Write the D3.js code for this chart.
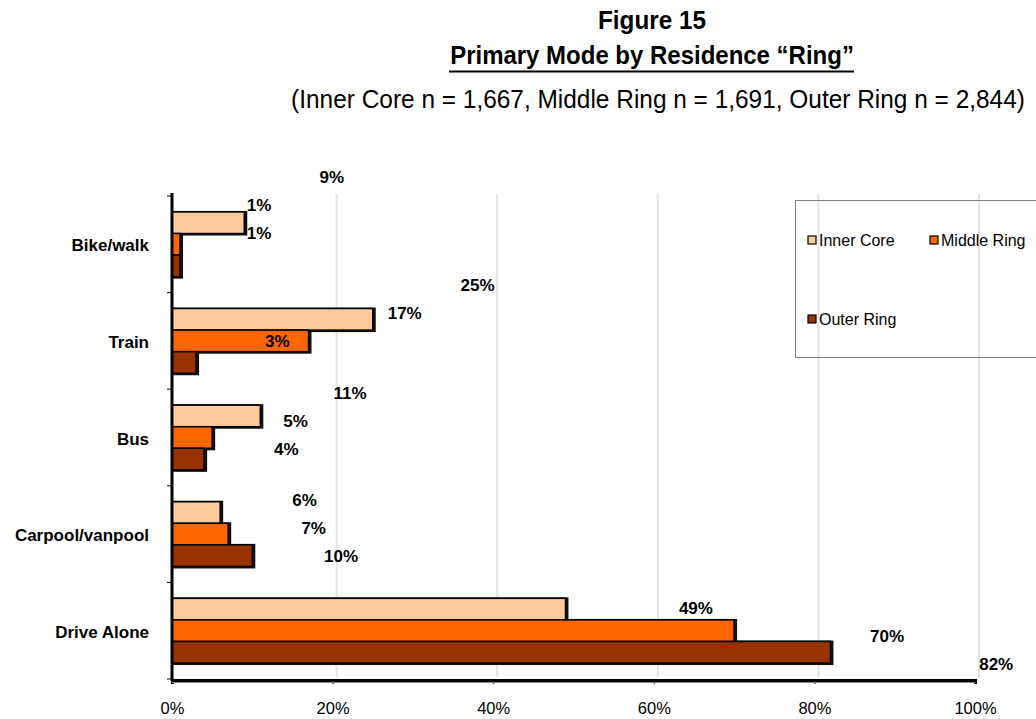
<!DOCTYPE html>
<html>
<head>
<meta charset="utf-8">
<script src="https://cdn.jsdelivr.net/npm/d3@7"></script>
<style>
  html, body { margin: 0; padding: 0; background: #fff; }
  svg { display: block; }
  text { font-family: Arial, "Liberation Sans", sans-serif; fill: #000; }
</style>
</head>
<body>
<svg id="chart" width="1036" height="719"></svg>
<script>
// Primary mode shares (%) by residence ring
const categories = ["Bike/walk", "Train", "Bus", "Carpool/vanpool", "Drive Alone"];
const series = ["Inner Core", "Middle Ring", "Outer Ring"];
const innerCore = [9, 25, 11, 6, 49];
const middleRing = [1, 17, 5, 7, 70];
const outerRing = [1, 3, 4, 10, 82];
const xTicks = [0, 0.2, 0.4, 0.6, 0.8, 1.0];
const colors = ["#FFCC99", "#FF6600", "#993300"];

const titleLines = [
  "Figure 15",
  "Primary Mode by Residence \u201CRing\u201D",
  "(Inner Core n = 1,667, Middle Ring n = 1,691, Outer Ring n = 2,844)"
];

const values = [innerCore, middleRing, outerRing];
const rows = [];
categories.forEach((c, i) => series.forEach((s, j) => rows.push({ cat: c, ser: s, v: values[j][i], j })));

const svg = d3.select("#chart");

// Titles: a narrow face, made by squeezing a regular sans to the set width
function narrowText(str, cx, baseline, width, weight) {
  const g = svg.append("g");
  const t = g.append("text").attr("text-anchor", "middle").attr("font-size", 26)
    .attr("font-weight", weight).text(str);
  const natural = t.node().getComputedTextLength();
  g.attr("transform", `translate(${cx},${baseline}) scale(${width / natural},1)`);
}
const titleX = 652;
narrowText(titleLines[0], titleX, 29, 108, "bold");
narrowText(titleLines[1], titleX, 64, 404, "bold");
svg.append("line").attr("x1", titleX - 203).attr("x2", titleX + 202)
  .attr("y1", 71.5).attr("y2", 71.5).attr("stroke", "#000").attr("stroke-width", 2);
narrowText(titleLines[2], 658, 108, 734, "normal");

// Scales
const x = d3.scaleLinear().domain([0, 1]).range([172, 975]);
const y = d3.scaleBand().domain(categories).range([196, 679]).paddingInner(0.33).paddingOuter(0.165);
const ySub = d3.scaleBand().domain(series).range([0, y.bandwidth()]);

// Data labels sit on their own projected scales (3D-style label placement)
const xLab = d3.scaleLinear().domain([0, 100]).range([250, 1160]);
const yLab = d3.scaleBand().domain(categories).range([151, 690]);
const yLabSub = d3.scaleBand().domain(series).range([-42, 42]);

// Gridlines (back wall, set slightly to the right)
const wallShift = 4;
svg.append("g").selectAll("line").data(xTicks.slice(1)).join("line")
  .attr("x1", d => x(d) + wallShift).attr("x2", d => x(d) + wallShift)
  .attr("y1", 194).attr("y2", 677)
  .attr("stroke", "#e3e3e3").attr("stroke-width", 2);

// Legend
const lg = svg.append("g");
lg.append("rect").attr("x", 795.5).attr("y", 200.5).attr("width", 260).attr("height", 157)
  .attr("fill", "none").attr("stroke", "#808080").attr("stroke-width", 1);
const legendPos = [[808, 246], [930, 246], [808, 325]];
series.forEach((s, i) => {
  const [lx, ly] = legendPos[i];
  lg.append("rect").attr("x", lx).attr("y", ly - 10).attr("width", 8).attr("height", 8)
    .attr("fill", colors[i]).attr("stroke", "#000").attr("stroke-width", 1.2);
  lg.append("text").attr("x", lx + 11).attr("y", ly).attr("font-size", 16).text(s);
});

// Bars: shadow then bar
const barG = svg.append("g");
barG.selectAll("rect.shadow").data(rows).join("rect").attr("class", "shadow")
  .attr("x", x(0)).attr("y", d => y(d.cat) + ySub(d.ser) - 1)
  .attr("width", d => x(d.v / 100) - x(0) + 3)
  .attr("height", ySub.bandwidth() + 3)
  .attr("fill", "#111");
barG.selectAll("rect.bar").data(rows).join("rect").attr("class", "bar")
  .attr("x", x(0)).attr("y", d => y(d.cat) + ySub(d.ser))
  .attr("width", d => x(d.v / 100) - x(0))
  .attr("height", ySub.bandwidth())
  .attr("fill", d => colors[d.j])
  .attr("stroke", "#000").attr("stroke-width", 1.5);

// Left axis
const yAxis = svg.append("g");
yAxis.append("line").attr("x1", 172).attr("x2", 172).attr("y1", 193).attr("y2", 681)
  .attr("stroke", "#000").attr("stroke-width", 3);
const bounds = categories.map(c => y(c) - y.step() * y.paddingInner() / 2).concat([679]);
yAxis.selectAll("line.tk").data(bounds).join("line").attr("class", "tk")
  .attr("x1", 167).attr("x2", 172).attr("y1", d => d).attr("y2", d => d)
  .attr("stroke", "#000").attr("stroke-width", 1);
yAxis.selectAll("text").data(categories).join("text")
  .attr("x", 149).attr("y", d => y(d) + y.bandwidth() / 2 + 7)
  .attr("text-anchor", "end").attr("font-size", 17).attr("font-weight", "bold").text(d => d);

// Bottom axis
const xAxisG = svg.append("g").attr("transform", "translate(0,680)")
  .call(d3.axisBottom(x).tickValues(xTicks).tickFormat(d3.format(".0%")).tickSize(4).tickPadding(18));
xAxisG.select(".domain").attr("stroke", "#000").attr("stroke-width", 3);
xAxisG.selectAll(".tick line").attr("stroke", "#000");
xAxisG.selectAll(".tick text").attr("font-size", 16.5).attr("font-family", "Arial, 'Liberation Sans', sans-serif");
svg.append("line").attr("x1", 172).attr("x2", 975).attr("y1", 682.5).attr("y2", 682.5)
  .attr("stroke", "#888").attr("stroke-width", 1);

// Value labels
svg.append("g").selectAll("text").data(rows).join("text")
  .attr("x", d => xLab(d.v))
  .attr("y", d => yLab(d.cat) + yLab.bandwidth() / 2 + yLabSub(d.ser) + yLabSub.bandwidth() / 2 + 6)
  .attr("text-anchor", "middle").attr("font-size", 17).attr("font-weight", "bold")
  .text(d => d.v + "%");
</script>
</body>
</html>
